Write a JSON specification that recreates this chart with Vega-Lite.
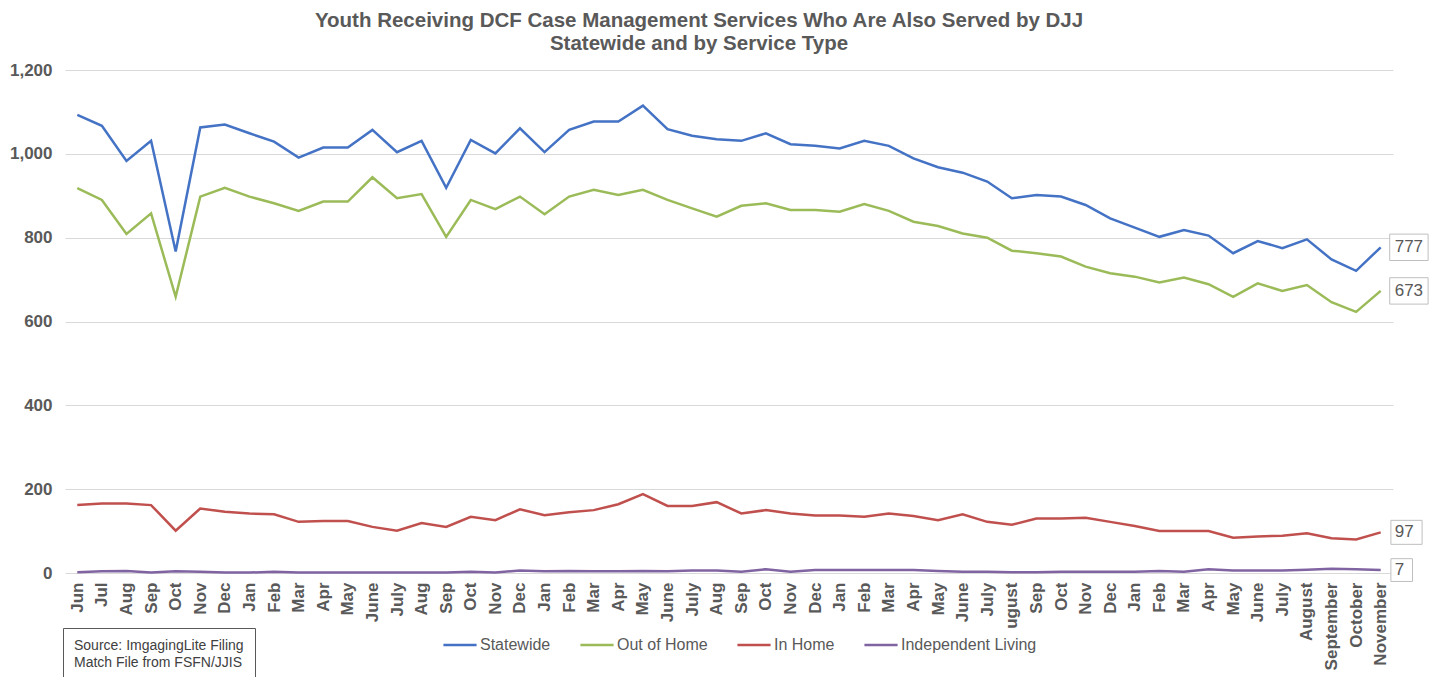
{
  "$schema": "https://vega.github.io/schema/vega-lite/v6.json",
  "width": 1328,
  "height": 503,
  "autosize": {"type": "none"},
  "padding": {"left": 65, "top": 70, "right": 42, "bottom": 104},
  "background": "white",
  "config": {"view": {"stroke": null}},
  "title": {
    "text": ["Youth Receiving DCF Case Management Services Who Are Also Served by DJJ", "Statewide and by Service Type"],
    "font": "Liberation Sans",
    "fontSize": 20.5,
    "fontWeight": "bold",
    "color": "#595959",
    "anchor": "middle",
    "dx": -30,
    "offset": 7,
    "lineHeight": 23
  },
  "data": {
    "values": [
      {"month": "Jun 2014", "Statewide": 1093, "Out of Home": 918, "In Home": 162, "Independent Living": 2},
      {"month": "Jul 2014", "Statewide": 1067, "Out of Home": 890, "In Home": 166, "Independent Living": 4},
      {"month": "Aug 2014", "Statewide": 983, "Out of Home": 809, "In Home": 166, "Independent Living": 5},
      {"month": "Sep 2014", "Statewide": 1031, "Out of Home": 858, "In Home": 162, "Independent Living": 1},
      {"month": "Oct 2014", "Statewide": 767, "Out of Home": 659, "In Home": 101, "Independent Living": 4},
      {"month": "Nov 2014", "Statewide": 1063, "Out of Home": 898, "In Home": 154, "Independent Living": 3},
      {"month": "Dec 2014", "Statewide": 1070, "Out of Home": 919, "In Home": 146, "Independent Living": 1},
      {"month": "Jan 2015", "Statewide": 1049, "Out of Home": 898, "In Home": 142, "Independent Living": 1},
      {"month": "Feb 2015", "Statewide": 1029, "Out of Home": 882, "In Home": 140, "Independent Living": 3},
      {"month": "Mar 2015", "Statewide": 991, "Out of Home": 864, "In Home": 122, "Independent Living": 1},
      {"month": "Apr 2015", "Statewide": 1015, "Out of Home": 886, "In Home": 124, "Independent Living": 1},
      {"month": "May 2015", "Statewide": 1015, "Out of Home": 886, "In Home": 124, "Independent Living": 1},
      {"month": "June 2015", "Statewide": 1057, "Out of Home": 944, "In Home": 110, "Independent Living": 1},
      {"month": "July 2015", "Statewide": 1004, "Out of Home": 894, "In Home": 101, "Independent Living": 1},
      {"month": "Aug 2015", "Statewide": 1031, "Out of Home": 904, "In Home": 119, "Independent Living": 1},
      {"month": "Sep 2015", "Statewide": 919, "Out of Home": 802, "In Home": 110, "Independent Living": 1},
      {"month": "Oct 2015", "Statewide": 1033, "Out of Home": 890, "In Home": 134, "Independent Living": 3},
      {"month": "Nov 2015", "Statewide": 1001, "Out of Home": 868, "In Home": 126, "Independent Living": 1},
      {"month": "Dec 2015", "Statewide": 1061, "Out of Home": 898, "In Home": 152, "Independent Living": 6},
      {"month": "Jan 2016", "Statewide": 1004, "Out of Home": 856, "In Home": 138, "Independent Living": 4},
      {"month": "Feb 2016", "Statewide": 1057, "Out of Home": 898, "In Home": 145, "Independent Living": 5},
      {"month": "Mar 2016", "Statewide": 1077, "Out of Home": 914, "In Home": 150, "Independent Living": 4},
      {"month": "Apr 2016", "Statewide": 1077, "Out of Home": 902, "In Home": 164, "Independent Living": 4},
      {"month": "May 2016", "Statewide": 1115, "Out of Home": 914, "In Home": 188, "Independent Living": 5},
      {"month": "June 2016", "Statewide": 1059, "Out of Home": 890, "In Home": 160, "Independent Living": 4},
      {"month": "July 2016", "Statewide": 1043, "Out of Home": 870, "In Home": 160, "Independent Living": 6},
      {"month": "Aug 2016", "Statewide": 1035, "Out of Home": 850, "In Home": 169, "Independent Living": 6},
      {"month": "Sep 2016", "Statewide": 1031, "Out of Home": 876, "In Home": 142, "Independent Living": 3},
      {"month": "Oct 2016", "Statewide": 1049, "Out of Home": 882, "In Home": 150, "Independent Living": 9},
      {"month": "Nov 2016", "Statewide": 1023, "Out of Home": 866, "In Home": 142, "Independent Living": 3},
      {"month": "Dec 2016", "Statewide": 1019, "Out of Home": 866, "In Home": 137, "Independent Living": 7},
      {"month": "Jan 2017", "Statewide": 1013, "Out of Home": 862, "In Home": 137, "Independent Living": 7},
      {"month": "Feb 2017", "Statewide": 1031, "Out of Home": 880, "In Home": 134, "Independent Living": 7},
      {"month": "Mar 2017", "Statewide": 1019, "Out of Home": 864, "In Home": 142, "Independent Living": 7},
      {"month": "Apr 2017", "Statewide": 989, "Out of Home": 838, "In Home": 136, "Independent Living": 7},
      {"month": "May 2017", "Statewide": 968, "Out of Home": 828, "In Home": 126, "Independent Living": 5},
      {"month": "June 2017", "Statewide": 955, "Out of Home": 810, "In Home": 140, "Independent Living": 3},
      {"month": "July 2017", "Statewide": 934, "Out of Home": 800, "In Home": 122, "Independent Living": 3},
      {"month": "ugust 2017", "Statewide": 894, "Out of Home": 769, "In Home": 115, "Independent Living": 2},
      {"month": "Sep 2017", "Statewide": 902, "Out of Home": 763, "In Home": 130, "Independent Living": 2},
      {"month": "Oct 2017", "Statewide": 898, "Out of Home": 755, "In Home": 130, "Independent Living": 3},
      {"month": "Nov 2017", "Statewide": 878, "Out of Home": 731, "In Home": 132, "Independent Living": 3},
      {"month": "Dec 2017", "Statewide": 846, "Out of Home": 715, "In Home": 122, "Independent Living": 3},
      {"month": "Jan 2018", "Statewide": 824, "Out of Home": 707, "In Home": 112, "Independent Living": 3},
      {"month": "Feb 2018", "Statewide": 802, "Out of Home": 693, "In Home": 100, "Independent Living": 5},
      {"month": "Mar 2018", "Statewide": 818, "Out of Home": 705, "In Home": 100, "Independent Living": 3},
      {"month": "Apr 2018", "Statewide": 805, "Out of Home": 689, "In Home": 100, "Independent Living": 9},
      {"month": "May 2018", "Statewide": 763, "Out of Home": 659, "In Home": 84, "Independent Living": 6},
      {"month": "June 2018", "Statewide": 792, "Out of Home": 691, "In Home": 87, "Independent Living": 6},
      {"month": "July 2018", "Statewide": 775, "Out of Home": 673, "In Home": 89, "Independent Living": 6},
      {"month": "August 2018", "Statewide": 796, "Out of Home": 687, "In Home": 95, "Independent Living": 8},
      {"month": "September 2018", "Statewide": 748, "Out of Home": 646, "In Home": 83, "Independent Living": 10},
      {"month": "October 2018", "Statewide": 721, "Out of Home": 623, "In Home": 80, "Independent Living": 9},
      {"month": "November 2018", "Statewide": 777, "Out of Home": 673, "In Home": 97, "Independent Living": 7}
    ]
  },
  "transform": [
    {"fold": ["Statewide", "Out of Home", "In Home", "Independent Living"], "as": ["series", "value"]}
  ],
  "encoding": {
    "x": {
      "field": "month",
      "type": "ordinal",
      "sort": null,
      "scale": {"type": "point", "padding": 0.5},
      "axis": {
        "title": null,
        "labelAngle": -90,
        "labelExpr": "split(datum.value, ' ')[0]",
        "labelFont": "Liberation Sans",
        "labelFontSize": 17,
        "labelFontWeight": "bold",
        "labelColor": "#595959",
        "labelPadding": 9,
        "labelOverlap": false,
        "ticks": false,
        "domain": false,
        "grid": false
      }
    },
    "y": {
      "field": "value",
      "type": "quantitative",
      "scale": {"domain": [0, 1200], "nice": false},
      "axis": {
        "title": null,
        "values": [0, 200, 400, 600, 800, 1000, 1200],
        "format": ",.0f",
        "grid": true,
        "gridColor": "#d9d9d9",
        "gridWidth": 1,
        "domain": false,
        "ticks": false,
        "labelFont": "Liberation Sans",
        "labelFontSize": 17,
        "labelFontWeight": "bold",
        "labelColor": "#595959",
        "labelPadding": 13
      }
    }
  },
  "layer": [
    {
      "mark": {"type": "line", "strokeWidth": 2.5},
      "encoding": {
        "color": {
          "field": "series",
          "type": "nominal",
          "scale": {
            "domain": ["Statewide", "Out of Home", "In Home", "Independent Living"],
            "range": ["#4472C4", "#9BBB59", "#C0504D", "#8064A2"]
          },
          "legend": {
            "title": null,
            "orient": "none",
            "direction": "horizontal",
            "legendX": 377,
            "legendY": 557,
            "symbolType": "stroke",
            "symbolSize": 1100,
            "symbolStrokeWidth": 2.5,
            "labelFont": "Liberation Sans",
            "labelFontSize": 16,
            "labelColor": "#595959",
            "labelOffset": 2,
            "columnPadding": 24
          }
        }
      }
    },
    {
      "transform": [{"filter": "datum.month === 'November 2018'"}],
      "mark": {"type": "point", "filled": true, "fill": "white", "stroke": "#bfbfbf", "strokeWidth": 1, "opacity": 1},
      "encoding": {
        "shape": {
          "field": "value",
          "type": "nominal",
          "scale": {
            "domain": [777, 673, 97, 7],
            "range": ["M0.75,-1.1H3.95V1.1H0.75Z", "M0.75,-1.1H3.95V1.1H0.75Z", "M0.85,-1H3.45V1H0.85Z", "M0.85,-0.95H2.65V0.95H0.85Z"]
          },
          "legend": null
        },
        "size": {"value": 576},
        "opacity": {
          "datum": "src",
          "type": "ordinal",
          "scale": {"range": [1, 1]},
          "legend": {
            "title": ["Source: ImgagingLite Filing", "Match File from FSFN/JJIS"],
            "orient": "none",
            "legendX": -2,
            "legendY": 558,
            "titleFont": "Liberation Sans",
            "titleFontSize": 14,
            "titleFontWeight": "normal",
            "titleColor": "#404040",
            "titleLineHeight": 17,
            "titlePadding": 0,
            "labelExpr": "''",
            "labelFontSize": 0,
            "symbolSize": 0,
            "symbolOpacity": 0,
            "symbolStrokeWidth": 0,
            "strokeColor": "#595959",
            "padding": 11
          }
        }
      }
    },
    {
      "transform": [{"filter": "datum.month === 'November 2018'"}],
      "mark": {"type": "text", "align": "left", "dx": 14, "baseline": "middle", "font": "Liberation Sans", "fontSize": 17, "color": "#595959"},
      "encoding": {
        "text": {"field": "value", "type": "quantitative"}
      }
    }
  ]
}
